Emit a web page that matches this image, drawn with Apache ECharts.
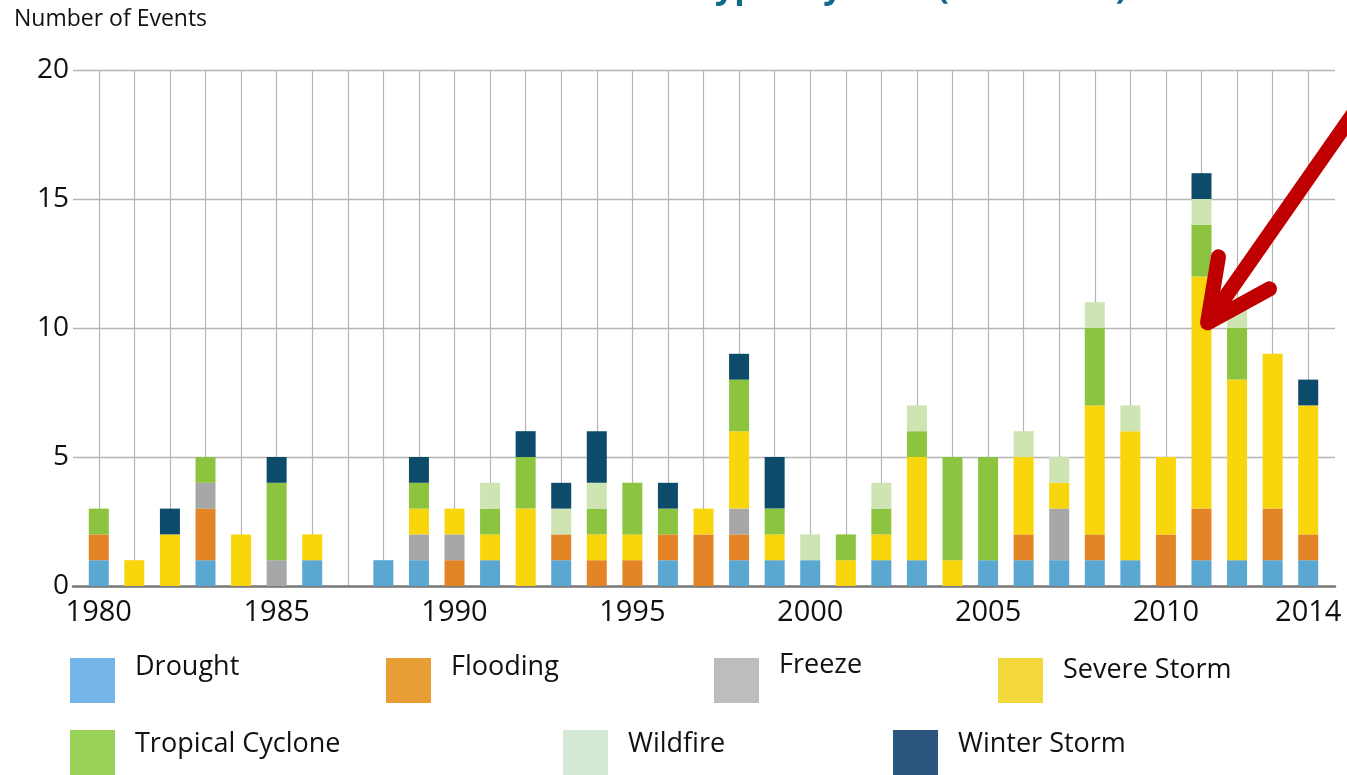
<!DOCTYPE html>
<html>
<head>
<meta charset="utf-8">
<script src="https://cdn.jsdelivr.net/npm/echarts@6/dist/echarts.min.js"></script>
<style>
  html, body { margin: 0; padding: 0; background: #fff; }
  #chart { width: 1347px; height: 775px; }
</style>
</head>
<body>
<div id="chart"></div>
<script>
// Billion-dollar disaster events per year, by type
const years = ['1980','1981','1982','1983','1984','1985','1986','1987','1988','1989',
               '1990','1991','1992','1993','1994','1995','1996','1997','1998','1999',
               '2000','2001','2002','2003','2004','2005','2006','2007','2008','2009',
               '2010','2011','2012','2013','2014'];

const drought    = [1,0,0,1,0,0,1,0,1,1, 0,1,0,1,0,0,1,0,1,1, 1,0,1,1,0,1,1,1,1,1, 0,1,1,1,1];
const flooding   = [1,0,0,2,0,0,0,0,0,0, 1,0,0,1,1,1,1,2,1,0, 0,0,0,0,0,0,1,0,1,0, 2,2,0,2,1];
const freeze     = [0,0,0,1,0,1,0,0,0,1, 1,0,0,0,0,0,0,0,1,0, 0,0,0,0,0,0,0,2,0,0, 0,0,0,0,0];
const severe     = [0,1,2,0,2,0,1,0,0,1, 1,1,3,0,1,1,0,1,3,1, 0,1,1,4,1,0,3,1,5,5, 3,9,7,6,5];
const tropical   = [1,0,0,1,0,3,0,0,0,1, 0,1,2,0,1,2,1,0,2,1, 0,1,1,1,4,4,0,0,3,0, 0,2,2,0,0];
const wildfire   = [0,0,0,0,0,0,0,0,0,0, 0,1,0,1,1,0,0,0,0,0, 1,0,1,1,0,0,1,1,1,1, 0,1,1,0,0];
const winter     = [0,0,1,0,0,1,0,0,0,1, 0,0,1,1,2,0,1,0,1,2, 0,0,0,0,0,0,0,0,0,0, 0,1,0,0,1];

const yTicks = [0, 5, 10, 15, 20];
const labelYears = ['1980','1985','1990','1995','2000','2005','2010','2014'];

const FONT = '"Open Sans", "Noto Sans", sans-serif';

// name, bar colour, legend swatch colour, data
const types = [
  ['Drought',          '#5AA7D2', '#74B5EA', drought],
  ['Flooding',         '#E38527', '#E89E35', flooding],
  ['Freeze',           '#A6A7A9', '#BDBDBD', freeze],
  ['Severe Storm',     '#F9D50C', '#F2D83A', severe],
  ['Tropical Cyclone', '#8CC43F', '#97D256', tropical],
  ['Wildfire',         '#CEE4B3', '#D3E9D6', wildfire],
  ['Winter Storm',     '#0D4B6B', '#2A5680', winter]
];

// legend placement: [swatch left, swatch top, label raise]
const legendPos = [
  [70, 658, 13], [386, 658, 13], [714, 658, 15], [998, 658, 10],
  [70, 730, 8], [563, 730, 8], [893, 730, 8]
];
const SWATCH = 45, LABEL_SIZE = 27;

const chart = echarts.init(document.getElementById('chart'));

const series = types.map(([name, color, , data]) => ({
  name,
  type: 'bar',
  stack: 'events',
  xAxisIndex: 0,
  yAxisIndex: 0,
  barWidth: 20,
  data,
  itemStyle: { color },
  emphasis: { disabled: true }
}));

const legends = types.map(([name, , swatch], i) => {
  const [left, top, raise] = legendPos[i];
  // a taller label box pushes the swatch down; pull the component up by that much
  const extra = Math.max(0, (LABEL_SIZE + raise * 2 - SWATCH) / 2);
  return {
    data: [{ name, itemStyle: { color: swatch } }],
    left,
    top: top - extra,
    padding: 0,
    icon: 'rect',
    itemWidth: SWATCH,
    itemHeight: SWATCH,
    selectedMode: false,
    formatter: '{t|{name}}',
    textStyle: {
      rich: {
        t: {
          fontFamily: FONT,
          fontSize: LABEL_SIZE,
          color: '#111',
          padding: [0, 0, raise * 2, 15]
        }
      }
    }
  };
});

chart.setOption({
  animation: false,
  backgroundColor: '#fff',
  title: [
    {
      text: 'Number of Events',
      left: 14,
      top: 8,
      padding: 0,
      textStyle: { fontFamily: FONT, fontSize: 23, fontWeight: 'normal', color: '#111' }
    },
    {
      text: 'Billion-Dollar Disaster Event Types by Year (1980-2014)',
      right: 220,
      top: -29,
      padding: 0,
      textStyle: { fontFamily: FONT, fontSize: 34, fontWeight: 'bold', color: '#0F6A8B' }
    }
  ],
  legend: legends,
  grid: [
    { left: 81, right: 21, top: 70, bottom: 189 },
    { left: 73, right: 12, top: 70, bottom: 189 }
  ],
  xAxis: [
    {
      type: 'category',
      gridIndex: 0,
      data: years,
      axisLine: { show: false },
      axisTick: { show: false },
      axisLabel: {
        interval: (idx, val) => labelYears.indexOf(val) >= 0,
        margin: 12,
        fontFamily: FONT,
        fontSize: 29,
        color: '#111'
      },
      splitLine: {
        show: true,
        interval: 0,
        alignWithLabel: true,
        lineStyle: { color: '#B5B5B5', width: 1.2 }
      }
    },
    {
      type: 'value',
      gridIndex: 1,
      min: 0,
      max: 1,
      axisLine: { show: true, lineStyle: { color: '#7A7A7A', width: 2.5 } },
      axisTick: { show: false },
      axisLabel: { show: false },
      splitLine: { show: false }
    }
  ],
  yAxis: [
    {
      type: 'value',
      gridIndex: 0,
      min: 0,
      max: 20,
      interval: 5,
      axisLine: { show: false },
      axisTick: { show: false },
      axisLabel: { show: false },
      splitLine: { show: false }
    },
    {
      type: 'value',
      gridIndex: 1,
      min: yTicks[0],
      max: yTicks[yTicks.length - 1],
      interval: 5,
      axisLine: { show: false },
      axisTick: { show: false },
      axisLabel: {
        margin: 4,
        fontFamily: FONT,
        fontSize: 28,
        color: '#111'
      },
      splitLine: { show: true, lineStyle: { color: '#B5B5B5', width: 1.3 } }
    }
  ],
  series
});

// Red call-out arrow pointing at the 2011 bar
const tip = chart.convertToPixel({ gridIndex: 0 }, [years[31], 10.2]);
const tx = tip[0] + 6, ty = tip[1];
const arrowStyle = { stroke: '#C00000', lineWidth: 15, lineCap: 'round', lineJoin: 'round', fill: null };
chart.setOption({
  graphic: [
    {
      type: 'line',
      z: 100,
      shape: { x1: tx + 4, y1: ty - 6, x2: tx + 152, y2: ty - 218 },
      style: Object.assign({}, arrowStyle, { lineCap: 'butt' })
    },
    {
      type: 'polyline',
      z: 100,
      shape: { points: [[tx + 11, ty - 66], [tx, ty], [tx + 62, ty - 34]] },
      style: arrowStyle
    }
  ]
});
</script>
</body>
</html>
